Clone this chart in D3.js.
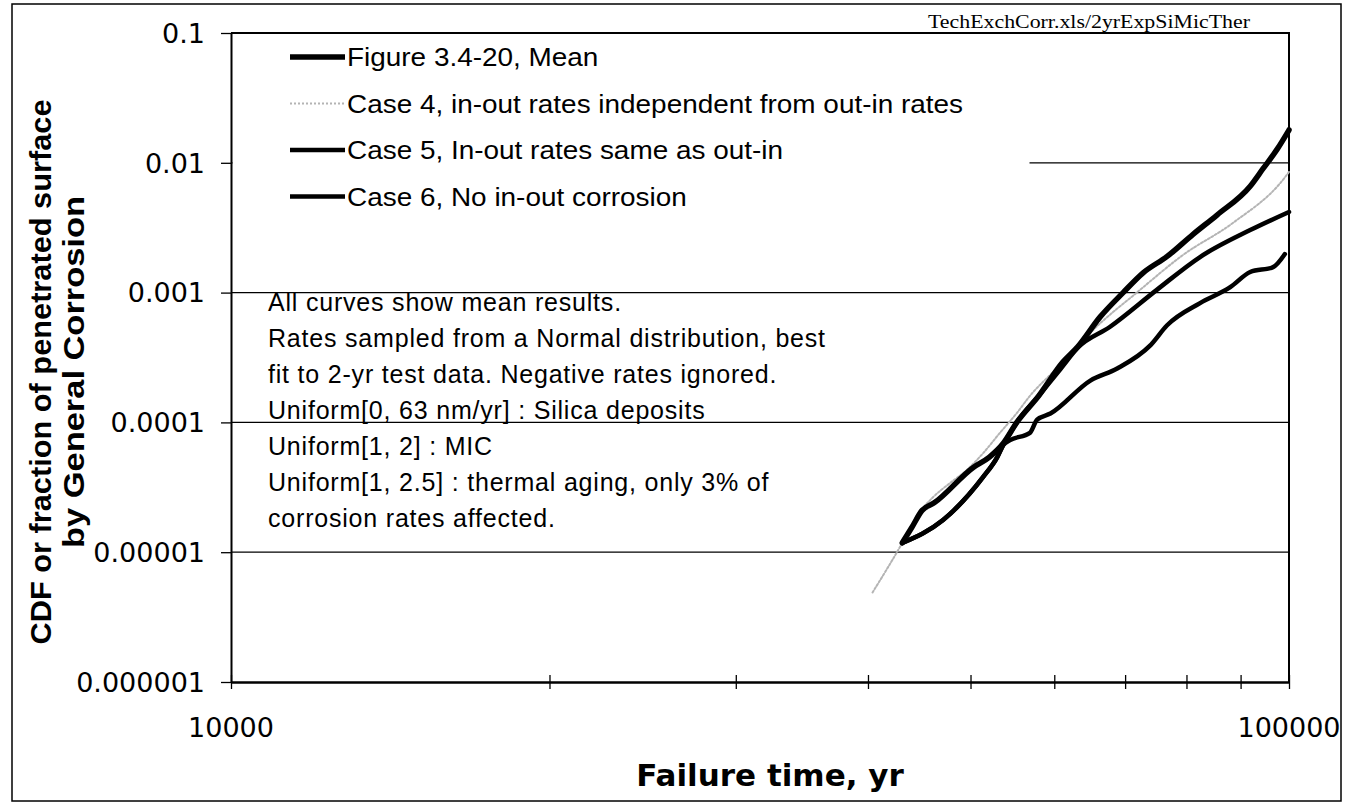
<!DOCTYPE html>
<html><head><meta charset="utf-8">
<script src="https://cdn.jsdelivr.net/npm/d3@7"></script>
<style>body{margin:0;background:#fff}</style>
</head><body>
<svg id="chart" width="1348" height="804"></svg>
<script>
// ---------------- data ----------------
const meanYears = [43100, 44000, 45000, 46200, 50300, 52100, 53700, 55300, 58000, 61100, 63100, 66300, 69700, 72800, 76700, 81100, 85500, 91900, 94500, 97500, 100000];
const meanCdf   = [1.18e-5, 1.55e-5, 2.1e-5, 2.4e-5, 4.5e-5, 5.4e-5, 6.9e-5, 1.0e-4, 1.6e-4, 2.9e-4, 3.8e-4, 6.5e-4, 1.0e-3, 1.42e-3, 1.9e-3, 2.8e-3, 3.96e-3, 6.6e-3, 9.0e-3, 1.28e-2, 1.79e-2];

const case4Years = [40400, 43100, 44500, 46100, 47800, 49600, 51400, 53300, 55300, 56900, 60000, 66000, 71800, 79400, 88500, 98700, 100000];
const case4Cdf   = [4.9e-6, 1.18e-5, 1.9e-5, 2.66e-5, 3.4e-5, 4.3e-5, 5.8e-5, 8.3e-5, 1.18e-4, 1.6e-4, 2.5e-4, 5.6e-4, 1.0e-3, 1.95e-3, 3.44e-3, 7.4e-3, 8.5e-3];

const case5Years = [43100, 47100, 51400, 53000, 53700, 55300, 58000, 61100, 63100, 67700, 75000, 82400, 91900, 100000];
const case5Cdf   = [1.18e-5, 1.77e-5, 3.8e-5, 5.4e-5, 6.7e-5, 1.0e-4, 1.6e-4, 2.7e-4, 3.74e-4, 5.43e-4, 1.05e-3, 1.88e-3, 3.03e-3, 4.18e-3];

const case6Years = [43100, 47100, 51400, 53000, 53700, 54500, 56900, 57800, 59500, 64900, 68800, 73900, 76700, 82400, 88000, 91900, 96600, 99100];
const case6Cdf   = [1.18e-5, 1.77e-5, 3.8e-5, 5.4e-5, 6.7e-5, 7.3e-5, 8.3e-5, 1.05e-4, 1.17e-4, 2.1e-4, 2.6e-4, 3.9e-4, 5.6e-4, 8.3e-4, 1.1e-3, 1.44e-3, 1.57e-3, 1.98e-3];

const seriesLabels = [
  "Figure 3.4-20, Mean",
  "Case 4, in-out rates independent from out-in rates",
  "Case 5, In-out rates same as out-in",
  "Case 6, No in-out corrosion"
];

const yTickValues = [0.1, 0.01, 0.001, 0.0001, 0.00001, 0.000001];
const yTickLabels = ["0.1", "0.01", "0.001", "0.0001", "0.00001", "0.000001"];
const xTickValues = [10000, 20000, 30000, 40000, 50000, 60000, 70000, 80000, 90000, 100000];
const xLabelValues = [10000, 100000];
const xLabelTexts = ["10000", "100000"];

const noteLines = [
  "All curves show  mean results.",
  "Rates sampled from a Normal distribution, best",
  "fit to 2-yr test data. Negative rates ignored.",
  "Uniform[0, 63 nm/yr] : Silica deposits",
  "Uniform[1, 2] : MIC",
  "Uniform[1, 2.5] : thermal aging, only 3% of",
  "corrosion rates affected."
];
const sourceNote = "TechExchCorr.xls/2yrExpSiMicTher";
const xTitle = "Failure time, yr";
const yTitleLines = ["CDF or fraction of penetrated surface", "by General Corrosion"];

// ---------------- layout ----------------
const svg = d3.select("#chart");
const P = {l: 231, r: 1289, t: 33, b: 682};
const x = d3.scaleLog().domain([10000, 100000]).range([P.l, P.r]);
const y = d3.scaleLog().domain([1e-6, 0.1]).range([P.b, P.t]);

const series = [
  {years: meanYears,  cdf: meanCdf,  color: "#000", width: 5.5, dash: null},
  {years: case4Years, cdf: case4Cdf, color: "#b4b4b4", width: 2, dash: "2,2"},
  {years: case5Years, cdf: case5Cdf, color: "#000", width: 4.5, dash: null},
  {years: case6Years, cdf: case6Cdf, color: "#000", width: 4.5, dash: null}
];

// outer frame
svg.append("rect").attr("x", 12).attr("y", 4).attr("width", 1329).attr("height", 797)
  .attr("fill", "none").attr("stroke", "#000").attr("stroke-width", 1.5);

// gridlines
svg.append("g").selectAll("line").data(yTickValues.slice(0, -1)).join("line")
  .attr("x1", P.l).attr("x2", P.r)
  .attr("y1", d => y(d)).attr("y2", d => y(d))
  .attr("stroke", "#000").attr("stroke-width", 1.3);

// right frame line
svg.append("line").attr("x1", P.r).attr("x2", P.r).attr("y1", P.t).attr("y2", P.b)
  .attr("stroke", "#000").attr("stroke-width", 2);

// legend (white box covering gridlines)
svg.append("rect").attr("x", P.l + 1.5).attr("y", 38).attr("width", 797).attr("height", 182)
  .attr("fill", "#fff");
const lg = svg.append("g");
const legendTexts = [];
seriesLabels.forEach((lab, i) => {
  const s = series[i];
  const yy = 57 + i * 46.5;
  lg.append("line").attr("x1", 290).attr("x2", 345).attr("y1", yy).attr("y2", yy)
    .attr("stroke", s.color).attr("stroke-width", s.width)
    .attr("stroke-dasharray", s.dash);
  legendTexts.push(lg.append("text").attr("x", 347).attr("y", yy).attr("dy", "0.36em")
    .attr("font-family", "'Liberation Sans',Arial,sans-serif")
    .attr("font-size", 25.5).attr("fill", "#000").text(lab));
});
// horizontal stretch so the longest entry spans the same width as in the original
const widest = legendTexts[1].node().getComputedTextLength();
const stretch = 616 / widest;
legendTexts.forEach(t => {
  const w = t.node().getComputedTextLength();
  t.attr("textLength", w * stretch).attr("lengthAdjust", "spacingAndGlyphs");
});

// curves
const line = d3.line().x(d => x(d[0])).y(d => y(d[1])).curve(d3.curveMonotoneX);
const drawOrder = [1, 3, 2, 0];
drawOrder.forEach(i => {
  const s = series[i];
  svg.append("path").datum(d3.zip(s.years, s.cdf)).attr("d", line)
    .attr("fill", "none").attr("stroke", s.color).attr("stroke-width", s.width)
    .attr("stroke-linejoin", "round").attr("stroke-linecap", "round")
    .attr("stroke-dasharray", s.dash);
});

// axes
const yAxis = svg.append("g").attr("transform", `translate(${P.l},0)`)
  .call(d3.axisLeft(y).tickValues(yTickValues).tickSizeInner(10).tickSizeOuter(0).tickFormat(""));
const xAxisB = svg.append("g").attr("transform", `translate(0,${P.b})`)
  .call(d3.axisBottom(x).tickValues(xTickValues).tickSizeInner(7).tickSizeOuter(0).tickFormat(""));
const xAxisT = svg.append("g").attr("transform", `translate(0,${P.b})`)
  .call(d3.axisTop(x).tickValues(xTickValues).tickSizeInner(7).tickSizeOuter(0).tickFormat(""));
[yAxis, xAxisB, xAxisT].forEach(g => {
  g.selectAll("path.domain").attr("stroke", "#000").attr("stroke-width", 2);
  g.selectAll(".tick line").attr("stroke", "#000").attr("stroke-width", 1.3);
});
// top frame line
svg.append("line").attr("x1", P.l).attr("x2", P.r + 1).attr("y1", P.t).attr("y2", P.t)
  .attr("stroke", "#000").attr("stroke-width", 2);

// tick labels
svg.append("g").selectAll("text").data(yTickValues).join("text")
  .attr("x", 205).attr("y", d => y(d)).attr("dy", "0.36em")
  .attr("text-anchor", "end")
  .attr("font-family", "'DejaVu Sans',sans-serif").attr("font-size", 27)
  .text((d, i) => yTickLabels[i]);
svg.append("g").selectAll("text").data(xLabelValues).join("text")
  .attr("x", d => x(d)).attr("y", 737)
  .attr("text-anchor", "middle")
  .attr("font-family", "'DejaVu Sans',sans-serif").attr("font-size", 27)
  .text((d, i) => xLabelTexts[i]);

// axis titles
svg.append("text").attr("x", (P.l + P.r) / 2 + 10).attr("y", 786).attr("text-anchor", "middle")
  .attr("font-family", "'DejaVu Sans',sans-serif").attr("font-weight", "bold").attr("font-size", 31)
  .text(xTitle);
const yTitleLen = [545, 352];
const yTitleX = [51, 84];
yTitleLines.forEach((t, i) => {
  svg.append("text").attr("transform", `translate(${yTitleX[i]},372) rotate(-90)`)
    .attr("text-anchor", "middle")
    .attr("font-family", "'Liberation Sans',Arial,sans-serif")
    .attr("font-weight", "bold").attr("font-size", 30)
    .attr("textLength", yTitleLen[i]).attr("lengthAdjust", "spacingAndGlyphs")
    .text(t);
});

// annotation
svg.append("g").selectAll("text").data(noteLines).join("text")
  .attr("x", 268).attr("y", (d, i) => 302 + i * 36).attr("dy", "0.36em")
  .attr("font-family", "'Liberation Sans',Arial,sans-serif").attr("font-size", 25)
  .attr("letter-spacing", 0.8)
  .text(d => d);

// source note
svg.append("text").attr("x", 928).attr("y", 28)
  .attr("font-family", "'Liberation Serif','Times New Roman',serif").attr("font-size", 19)
  .attr("textLength", 322).attr("lengthAdjust", "spacingAndGlyphs")
  .text(sourceNote);
</script>
</body></html>
